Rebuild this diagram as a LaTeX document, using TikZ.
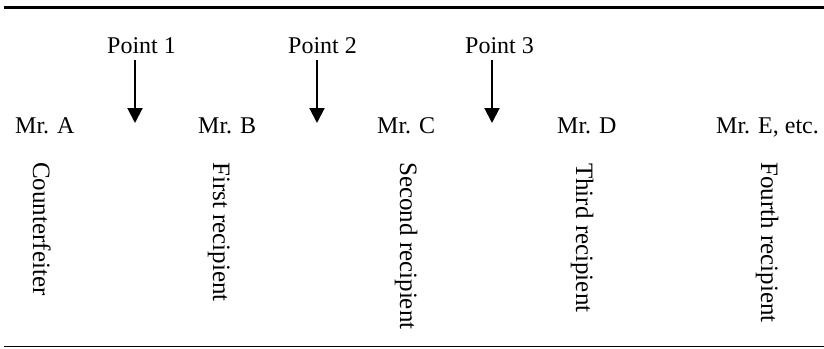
\documentclass[tikz,border=0pt]{standalone}
\usepackage{fontspec}
\setmainfont{Liberation Serif}
\usetikzlibrary{arrows.meta}
\begin{document}
\begin{tikzpicture}[x=1pt,y=-1pt,
  toplabel/.style={anchor=base west,inner sep=0pt,font=\fontsize{24}{28}\selectfont},
  rotlabel/.style={anchor=base west,inner sep=0pt,rotate=-90,font=\fontsize{25}{30}\selectfont},
  pointer/.style={line width=2pt,-{Triangle[width=15pt,length=15pt]}}]
\useasboundingbox (0,0) rectangle (824,348);
\draw[line width=2.7pt] (4,7.5) -- (824,7.5);
\draw[line width=1.2pt] (4,346.5) -- (824,346.5);
% point labels
\node[toplabel] (p1) at (107,53) {Point 1};
\node[toplabel] (p2) at (288,53) {Point 2};
\node[toplabel] (p3) at (465,53) {Point 3};
\coordinate (a1s) at (135,60); \coordinate (a1e) at (135,123);
\coordinate (a2s) at (317,60); \coordinate (a2e) at (317,123);
\coordinate (a3s) at (492,60); \coordinate (a3e) at (492,123);
\draw[pointer] (a1s) -- (a1e);
\draw[pointer] (a2s) -- (a2e);
\draw[pointer] (a3s) -- (a3e);
% persons
\node[toplabel] (ma) at (15,133) {Mr. A};
\node[toplabel] (mb) at (198,133) {Mr. B};
\node[toplabel] (mc) at (377,133) {Mr. C};
\node[toplabel] (md) at (557,133) {Mr. D};
\node[toplabel] (me) at (716,133) {Mr. E, etc.};
% roles
\node[rotlabel] (ra) at (33,162) {Counterfeiter};
\node[rotlabel] (rb) at (213,162) {First recipient};
\node[rotlabel] (rc) at (400,162) {Second recipient};
\node[rotlabel] (rd) at (576,163) {Third recipient};
\node[rotlabel] (re) at (761,162) {Fourth recipient};
\end{tikzpicture}
\end{document}
